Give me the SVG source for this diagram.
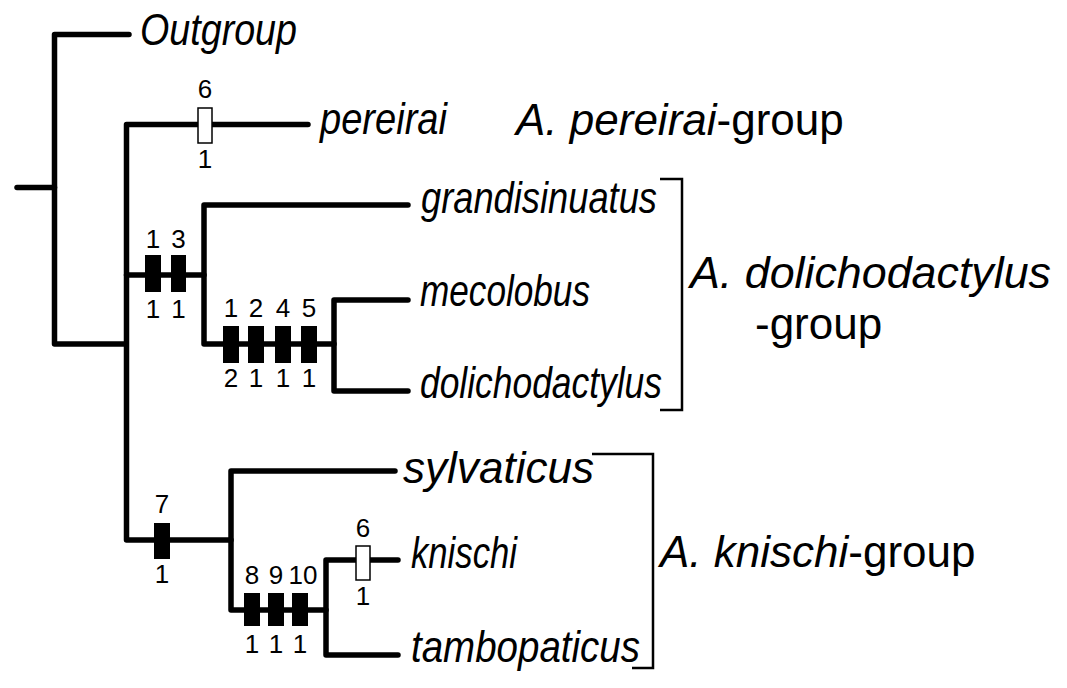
<svg xmlns="http://www.w3.org/2000/svg" width="1067" height="688" viewBox="0 0 1067 688">
<style>
.br{fill:none;stroke:#000;stroke-width:5.5;stroke-linejoin:round;stroke-linecap:round}
.bk{fill:none;stroke:#000;stroke-width:2.5}
.sp{font-family:"Liberation Sans",Arial,sans-serif;font-style:italic;font-size:44px;fill:#000}
.grp{font-family:"Liberation Sans",Arial,sans-serif;font-size:44px;fill:#000}
.num{font-family:"Liberation Sans",Arial,sans-serif;font-size:26px;fill:#000;text-anchor:middle}
.cf{fill:#000;stroke:none}
.co{fill:#fff;stroke:#000;stroke-width:1.5}
</style>
<rect width="1067" height="688" fill="#fff"/>
<g id="connectors">
<path class="br" d="M17,187.5 H54.5"/>
<path class="br" d="M129,34.5 H54.5 V344 H126"/>
<path class="br" d="M308,124.5 H126.5 V540 H231"/>
<path class="br" d="M126.5,275 H204"/>
<path class="br" d="M408,205 H204 V344 H334"/>
<path class="br" d="M408,300 H334 V391 H408"/>
<path class="br" d="M395,471 H231 V610 H326"/>
<path class="br" d="M398,560 H326 V655 H398"/>
</g>
<g id="char-pereirai">
<rect class="co" x="198" y="108" width="14" height="35"/>
<text class="num" x="205" y="98">6</text>
<text class="num" x="205" y="168">1</text>
</g>
<g id="char-dolicho">
<rect class="cf" x="145" y="255" width="16" height="37"/>
<rect class="cf" x="171" y="255" width="15" height="37"/>
<text class="num" x="153" y="248">1</text>
<text class="num" x="178.5" y="248">3</text>
<text class="num" x="153" y="318">1</text>
<text class="num" x="178.5" y="318">1</text>
</g>
<g id="char-meco">
<rect class="cf" x="223" y="326" width="16" height="37"/>
<rect class="cf" x="248" y="326" width="16" height="37"/>
<rect class="cf" x="275" y="326" width="16" height="37"/>
<rect class="cf" x="301" y="326" width="16" height="37"/>
<text class="num" x="231" y="317">1</text>
<text class="num" x="256" y="317">2</text>
<text class="num" x="283" y="317">4</text>
<text class="num" x="309" y="317">5</text>
<text class="num" x="231" y="387">2</text>
<text class="num" x="256" y="387">1</text>
<text class="num" x="283" y="387">1</text>
<text class="num" x="309" y="387">1</text>
</g>
<g id="char-knischi-group">
<rect class="cf" x="154" y="523" width="16" height="36"/>
<text class="num" x="162" y="513">7</text>
<text class="num" x="162" y="583">1</text>
</g>
<g id="char-tambo">
<rect class="cf" x="244" y="593" width="16" height="33"/>
<rect class="cf" x="268" y="593" width="16" height="33"/>
<rect class="cf" x="292" y="593" width="16" height="33"/>
<text class="num" x="252" y="584">8</text>
<text class="num" x="276" y="584">9</text>
<text class="num" x="303" y="584">10</text>
<text class="num" x="252" y="653">1</text>
<text class="num" x="276" y="653">1</text>
<text class="num" x="300" y="653">1</text>
</g>
<g id="char-knischi">
<rect class="co" x="356" y="546" width="14" height="34"/>
<text class="num" x="363" y="537">6</text>
<text class="num" x="363" y="605">1</text>
</g>
<g id="taxon-outgroup"><text class="sp" x="140" y="45" textLength="157" lengthAdjust="spacingAndGlyphs">Outgroup</text></g>
<g id="taxon-pereirai"><text class="sp" x="320" y="134" textLength="127" lengthAdjust="spacingAndGlyphs">pereirai</text></g>
<g id="taxon-grandisinuatus"><text class="sp" x="421" y="213" textLength="236" lengthAdjust="spacingAndGlyphs">grandisinuatus</text></g>
<g id="taxon-mecolobus"><text class="sp" x="420" y="306" textLength="170" lengthAdjust="spacingAndGlyphs">mecolobus</text></g>
<g id="taxon-dolichodactylus"><text class="sp" x="420" y="398" textLength="242" lengthAdjust="spacingAndGlyphs">dolichodactylus</text></g>
<g id="taxon-sylvaticus"><text class="sp" x="403" y="483" textLength="191" lengthAdjust="spacingAndGlyphs">sylvaticus</text></g>
<g id="taxon-knischi"><text class="sp" x="411" y="568" textLength="106" lengthAdjust="spacingAndGlyphs">knischi</text></g>
<g id="taxon-tambopaticus"><text class="sp" x="411" y="662" textLength="229" lengthAdjust="spacingAndGlyphs">tambopaticus</text></g>
<g id="group-pereirai"><text class="grp" x="516" y="135"><tspan font-style="italic">A. pereirai</tspan>-group</text></g>
<g id="group-dolichodactylus">
<path class="bk" d="M660,179 H682 V410 H660"/>
<text class="grp" x="690" y="288" font-style="italic" textLength="361" lengthAdjust="spacingAndGlyphs">A. dolichodactylus</text>
<text class="grp" x="755" y="339">-group</text>
</g>
<g id="group-knischi">
<path class="bk" d="M592,454 H653 V668 H632"/>
<text class="grp" x="660" y="567"><tspan font-style="italic">A. knischi</tspan>-group</text>
</g>
</svg>
